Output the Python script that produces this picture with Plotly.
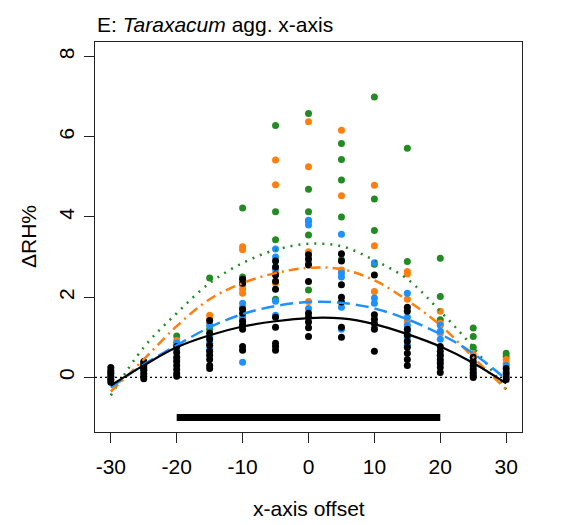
import plotly.graph_objects as go

offsets = [-30, -25, -20, -15, -10, -5, 0, 5, 10, 15, 20, 25, 30]

black_pts = [
    [0.25, 0.17, 0.1, 0.03, -0.05, -0.12],
    [0.4, 0.32, 0.25, 0.18, 0.1, 0.03, -0.03],
    [0.77, 0.62, 0.5, 0.4, 0.3, 0.2, 0.1, 0.03],
    [1.42, 1.1, 0.95, 0.8, 0.65, 0.55, 0.45, 0.3, 0.22],
    [2.45, 2.35, 1.7, 1.6, 1.4, 1.3, 1.2, 0.77, 0.68],
    [2.9, 2.75, 2.55, 2.4, 2.2, 1.5, 1.25, 0.85, 0.77, 0.68],
    [3.06, 2.95, 2.8, 2.39, 1.6, 1.5, 1.38, 1.24, 1.02],
    [3.08, 2.9, 2.31, 2.0, 1.88, 1.25, 1.0],
    [2.55, 1.56, 1.45, 1.35, 1.2, 0.65],
    [1.75, 1.65, 1.2, 1.05, 0.9, 0.75, 0.6, 0.45, 0.3],
    [0.77, 0.65, 0.55, 0.45, 0.35, 0.25, 0.12],
    [0.5, 0.38, 0.3, 0.2, 0.12, 0.05, 0.0],
    [0.22, 0.1, 0.02, -0.05],
]
blue_pts = [
    [0.12, 0.0],
    [0.35, 0.2],
    [0.85, 0.7, 0.45],
    [1.3, 1.0, 0.85, 0.7],
    [1.85, 1.75, 1.5, 1.45, 1.3, 0.38],
    [3.2, 3.0, 2.7, 1.9, 1.55],
    [3.92, 3.8, 2.85, 1.72],
    [3.57, 2.6, 2.5, 1.75, 1.2],
    [2.86, 1.98, 1.85, 1.25],
    [2.1, 1.5, 1.3, 1.15, 1.0, 0.8],
    [1.3, 1.15, 0.95, 0.55, 0.4],
    [0.4, 0.25, 0.1],
    [0.3, 0.15],
]
orange_pts = [
    [-0.05],
    [0.3],
    [0.92, 0.85],
    [1.55, 1.45, 1.35],
    [3.26, 3.18, 2.3, 2.2, 2.1],
    [5.42, 4.8, 2.6, 2.35],
    [6.37, 5.25, 3.13, 1.89],
    [6.16, 4.53, 2.68],
    [4.79, 3.28, 2.14],
    [2.64, 2.58, 1.95, 1.4],
    [1.65, 1.35, 1.1],
    [0.58, 0.45],
    [0.45, 0.35],
]
green_pts = [
    [],
    [],
    [1.03],
    [2.48, 1.2],
    [4.22, 2.5],
    [6.28, 4.13, 3.43, 1.95],
    [6.58, 4.69, 4.13, 3.9, 3.55, 2.18],
    [5.83, 5.43, 4.92, 4.0, 2.93],
    [6.99, 4.45, 3.66, 2.82],
    [5.71, 2.89],
    [2.97, 2.02, 1.44],
    [1.23, 1.02, 0.75],
    [0.6, 0.52],
]

# fitted curves
fit_x = [-30, -25, -20, -15, -10, -5, 0, 5, 10, 15, 20, 25, 30]
black_fit = [-0.2, 0.3, 0.75, 1.05, 1.27, 1.4, 1.48, 1.47, 1.33, 1.08, 0.77, 0.36, -0.15]
blue_fit = [-0.25, 0.32, 0.8, 1.25, 1.58, 1.78, 1.88, 1.86, 1.72, 1.45, 1.08, 0.6, -0.05]
orange_fit = [-0.35, 0.45, 1.28, 1.95, 2.35, 2.6, 2.73, 2.7, 2.42, 1.92, 1.3, 0.5, -0.3]
green_fit = [-0.45, 0.75, 1.6, 2.35, 2.85, 3.18, 3.33, 3.27, 2.92, 2.45, 1.65, 0.75, -0.3]

bar_x = [-20, 20]
bar_y = [-1, -1]

x_ticks = [-30, -20, -10, 0, 10, 20, 30]
x_tick_text = ["-30", "-20", "-10", "0", "10", "20", "30"]
y_ticks = [0, 2, 4, 6, 8]
y_tick_text = ["0", "2", "4", "6", "8"]

BLACK = "#000000"
BLUE = "#1E90FF"
ORANGE = "#FF7F0E"
GREEN = "#228B22"

fig = go.Figure()

def flat(pts):
    xs, ys = [], []
    for o, vals in zip(offsets, pts):
        for v in vals:
            xs.append(o)
            ys.append(v)
    return xs, ys

for pts, col in [(green_pts, GREEN), (orange_pts, ORANGE), (blue_pts, BLUE), (black_pts, BLACK)]:
    xs, ys = flat(pts)
    fig.add_trace(go.Scatter(x=xs, y=ys, mode="markers",
                             marker=dict(color=col, size=7, line=dict(width=0)),
                             showlegend=False, hoverinfo="skip"))

fig.add_trace(go.Scatter(x=fit_x, y=green_fit, mode="lines", line_shape="spline",
                         line=dict(color=GREEN, width=2.5, dash="2px,6px"), showlegend=False))
fig.add_trace(go.Scatter(x=fit_x, y=orange_fit, mode="lines", line_shape="spline",
                         line=dict(color=ORANGE, width=2.5, dash="10px,5px,2px,5px"), showlegend=False))
fig.add_trace(go.Scatter(x=fit_x, y=blue_fit, mode="lines", line_shape="spline",
                         line=dict(color=BLUE, width=2.5, dash="13px,6px"), showlegend=False))
fig.add_trace(go.Scatter(x=fit_x, y=black_fit, mode="lines", line_shape="spline",
                         line=dict(color=BLACK, width=2.2), showlegend=False))

fig.add_trace(go.Scatter(x=bar_x, y=bar_y, mode="lines",
                         line=dict(color=BLACK, width=7), showlegend=False))

fig.add_shape(type="line", xref="paper", x0=0, x1=1, yref="y", y0=0, y1=0,
              line=dict(color=BLACK, width=1.2, dash="2px,3px"), layer="below")

font = dict(family="Arial, Liberation Sans, sans-serif", size=21, color="#000")

fig.update_layout(
    width=563, height=525,
    margin=dict(l=95, r=41, t=42, b=93),
    plot_bgcolor="white", paper_bgcolor="white",
    font=font,
    xaxis=dict(range=[-32.4, 32.4], tickvals=x_ticks, ticktext=x_tick_text, ticks="outside", ticklen=10,
               tickcolor="#222", showline=True, linecolor="#222", linewidth=1.2, mirror=True,
               showgrid=False, zeroline=False, tickfont=font, ticklabelstandoff=6),
    yaxis=dict(range=[-1.36, 8.36], tickvals=y_ticks, ticktext=y_tick_text, ticks="outside", ticklen=10,
               tickcolor="#222", showline=True, linecolor="#222", linewidth=1.2, mirror=True,
               showgrid=False, zeroline=False, tickfont=font, tickangle=-90, ticklabelstandoff=2),
    annotations=[
        dict(text="E: <i>Taraxacum</i> agg. x-axis", xref="paper", yref="paper",
             x=0, y=1, xanchor="left", yanchor="bottom", yshift=4, showarrow=False, font=font),
        dict(text="x-axis offset", xref="paper", yref="paper", x=0.5, y=0,
             xanchor="center", yanchor="middle", yshift=-76, showarrow=False, font=font),
        dict(text="\u0394RH%", xref="paper", yref="paper", x=0, y=0.5, textangle=-90,
             xanchor="center", yanchor="middle", xshift=-67, showarrow=False, font=font),
    ],
)

fig.write_html("out.html")
